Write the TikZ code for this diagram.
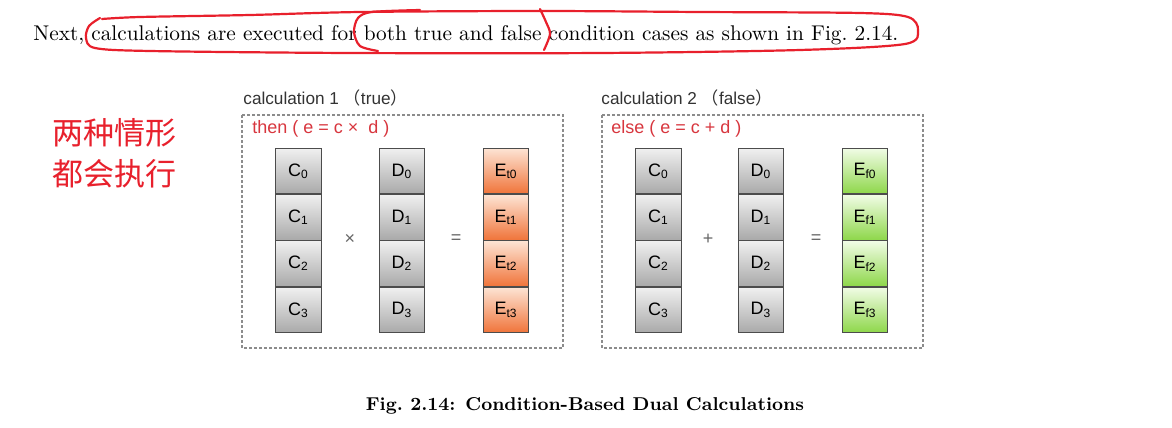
\documentclass[tikz,border=0pt]{standalone}
\usepackage{fontspec}
\setsansfont{Liberation Sans}
\newfontfamily\cjkfont{Noto Sans CJK SC}
\usepackage{tikz}
\usetikzlibrary{positioning,calc}
\definecolor{cellgray}{HTML}{A9A9A9}
\definecolor{celllight}{HTML}{F0F0F0}
\definecolor{orangedark}{HTML}{F0743A}
\definecolor{orangelight}{HTML}{FDE4D4}
\definecolor{greendark}{HTML}{8ED74A}
\definecolor{greenlight}{HTML}{F1FCE6}
\definecolor{labelred}{HTML}{D8363E}
\definecolor{inkred}{HTML}{E8202C}
\definecolor{boxgray}{HTML}{8C8C8C}
\definecolor{titlegray}{HTML}{333333}

\begin{document}
\begin{tikzpicture}[
  x=0.5pt,y=-0.5pt,
  cell/.style={draw=black!70,minimum width=22.75pt,minimum height=22.75pt,inner sep=0pt,
               top color=celllight,bottom color=cellgray,font=\sffamily\small},
  tcell/.style={cell,top color=orangelight,bottom color=orangedark},
  fcell/.style={cell,top color=greenlight,bottom color=greendark},
  frame/.style={draw=boxgray,line width=0.7pt,dash pattern=on 1.4pt off 1.1pt},
  title/.style={anchor=base west,inner sep=0pt,text=titlegray,
                font=\sffamily\fontsize{8.6}{10}\selectfont},
  cond/.style={anchor=base west,inner sep=0pt,text=labelred,font=\sffamily\small},
  op/.style={inner sep=0pt,text=black!60,font=\sffamily\small},
  ink/.style={draw=inkred,line width=1.1pt,line cap=round}
]
  \useasboundingbox[fill=white] (0,0) rectangle (1172,428);
  % sentence and hand-drawn marks
  \node[anchor=base west,inner sep=0pt,font=\fontsize{10.65}{12}\selectfont] (intro) at (33,40)
    {Next, calculations are executed for both true and false condition cases as shown in Fig.~2.14.};
  \draw[ink] plot[smooth] coordinates {(100,18) (89,26) (86,38) (95,48) (150,51) (350,53)
    (600,53) (800,50) (905,44) (918,30) (908,17) (860,13) (700,12) (540,11) (360,12)
    (250,15) (140,17) (102,19)};
  \draw[ink] plot[smooth] coordinates {(378,51) (360,46) (354,32) (358,18) (372,12) (420,10)};
  \draw[ink] plot[smooth] coordinates {(540,9) (546,22) (550,34) (544,50)};
  \node[anchor=north west,inner sep=0pt,align=left,text=inkred,
        font=\cjkfont\fontsize{15.5}{20.5}\selectfont] (note) at (52,118)
    {两种情形\\都会执行};
  % calculation 1
  \node[title] (title1) at (243,104) {calculation 1 {\cjkfont （}true{\cjkfont ）}};
  \draw[frame] (242,115) rectangle (563,348);
  \node[cond] (cond1) at (252,133) {then ( e = c ×\ \ d )};
  \node[cell] (c10) at (298.5,171) {C\textsubscript{0}};
  \node[cell] (d10) at (402,171) {D\textsubscript{0}};
  \node[tcell] (e10) at (506,171) {E\textsubscript{t0}};
  \foreach \i [evaluate=\i as \j using int(\i-1)] in {1,2,3} {
    \node[cell,below=0pt of c1\j] (c1\i) {C\textsubscript{\i}};
    \node[cell,below=0pt of d1\j] (d1\i) {D\textsubscript{\i}};
    \node[tcell,below=0pt of e1\j] (e1\i) {E\textsubscript{t\i}};
  }
  \node[op] (mul) at (350,239) {×};
  \node[op] (eq1) at (456,239) {=};
  % calculation 2
  \node[title] (title2) at (601,104) {calculation 2 {\cjkfont （}false{\cjkfont ）}};
  \draw[frame] (602,115) rectangle (923,348);
  \node[cond] (cond2) at (611,133) {else ( e = c + d )};
  \node[cell] (c20) at (658.5,171) {C\textsubscript{0}};
  \node[cell] (d20) at (761,171) {D\textsubscript{0}};
  \node[fcell] (e20) at (865,171) {E\textsubscript{f0}};
  \foreach \i [evaluate=\i as \j using int(\i-1)] in {1,2,3} {
    \node[cell,below=0pt of c2\j] (c2\i) {C\textsubscript{\i}};
    \node[cell,below=0pt of d2\j] (d2\i) {D\textsubscript{\i}};
    \node[fcell,below=0pt of e2\j] (e2\i) {E\textsubscript{f\i}};
  }
  \node[op] (add) at (708,239) {+};
  \node[op] (eq2) at (816,239) {=};
  % caption
  \node[anchor=base,inner sep=0pt,font=\bfseries\fontsize{9.3}{11}\selectfont] (caption) at (585,410)
    {Fig.~2.14: Condition-Based Dual Calculations};
\end{tikzpicture}
\end{document}
